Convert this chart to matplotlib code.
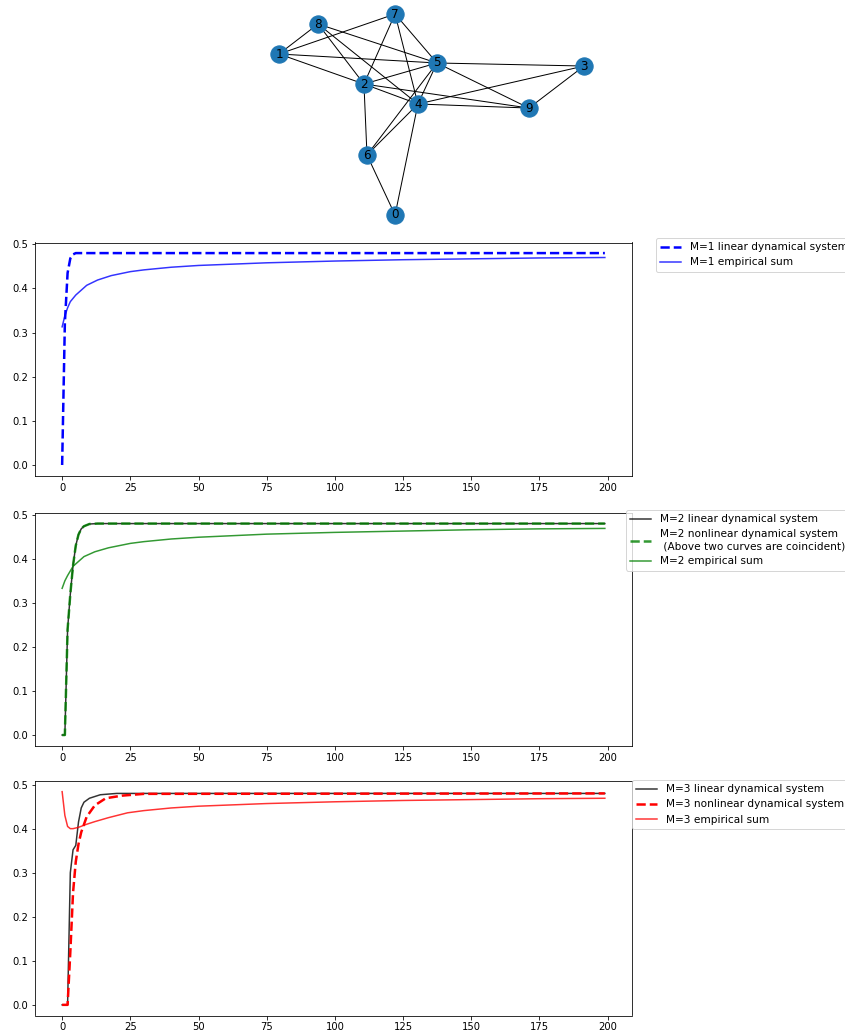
import matplotlib
matplotlib.use('Agg')
import matplotlib.pyplot as plt

W, H, DPI = 845, 1034, 72

# --- graph (layout coordinates, spring-layout-like) ---
NODES = [0, 1, 2, 3, 4, 5, 6, 7, 8, 9]
NODE_X = [-0.239, -1.000, -0.443, 1.000, -0.089, 0.036, -0.423, -0.239, -0.744, 0.639]
NODE_Y = [-1.000, 0.594, 0.297, 0.475, 0.099, 0.505, -0.406, 0.990, 0.891, 0.059]
EDGES = [(8, 1), (1, 7), (1, 5), (1, 2), (8, 5), (8, 2), (8, 4),
         (7, 2), (7, 4), (7, 5), (5, 2), (5, 3), (5, 9), (5, 4), (5, 6),
         (2, 4), (2, 9), (2, 6), (4, 9), (4, 3), (4, 6), (4, 0), (3, 9), (6, 0)]

# --- M=1 ---
m1_lin_x = [0, 1, 2, 3, 4, 5, 199]
m1_lin_y = [0.0, 0.322, 0.435, 0.468, 0.477, 0.48, 0.48]
m1_emp_x = [0, 1, 2, 3, 5, 9, 13, 18, 25, 30, 40, 50, 75, 100, 125, 150, 175, 199]
m1_emp_y = [0.313, 0.338, 0.356, 0.370, 0.385, 0.407, 0.419, 0.429, 0.438, 0.442,
            0.448, 0.452, 0.458, 0.462, 0.465, 0.467, 0.469, 0.470]

# --- M=2 ---
m2_lin_x = [0, 1, 2, 3, 4, 5, 6, 7, 8, 10, 13, 199]
m2_lin_y = [0.0, 0.0, 0.24, 0.32, 0.385, 0.43, 0.455, 0.468, 0.474, 0.479, 0.48, 0.48]
m2_non_x = m2_lin_x
m2_non_y = m2_lin_y
m2_emp_x = [0, 1, 2, 4, 8, 12, 17, 25, 30, 40, 50, 75, 100, 125, 150, 175, 199]
m2_emp_y = [0.333, 0.350, 0.362, 0.383, 0.405, 0.416, 0.425, 0.435, 0.439, 0.445,
            0.449, 0.456, 0.460, 0.463, 0.466, 0.468, 0.469]

# --- M=3 ---
m3_lin_x = [0, 1, 2, 3, 4, 5, 6, 7, 8, 10, 14, 20, 199]
m3_lin_y = [0.0, 0.0, 0.0, 0.30, 0.352, 0.362, 0.415, 0.447, 0.46, 0.469, 0.477, 0.48, 0.48]
m3_non_x = [0, 1, 2, 3, 4, 5, 6, 7, 9, 12, 16, 22, 30, 199]
m3_non_y = [0.0, 0.0, 0.0, 0.12, 0.255, 0.325, 0.365, 0.392, 0.427, 0.453, 0.469, 0.475,
            0.479, 0.48]
m3_emp_x = [0, 1, 2, 3, 4, 6, 9, 12, 17, 24, 30, 40, 50, 75, 100, 125, 150, 175, 199]
m3_emp_y = [0.484, 0.430, 0.405, 0.400, 0.400, 0.403, 0.410, 0.416, 0.425, 0.436, 0.441,
            0.447, 0.451, 0.457, 0.461, 0.464, 0.466, 0.468, 0.469]


def px_axes(fig, left, top, right, bottom):
    return fig.add_axes([left / W, 1 - bottom / H, (right - left) / W, (bottom - top) / H])


fig = plt.figure(figsize=(W / DPI, H / DPI), dpi=DPI)

# graph panel
axg = px_axes(fig, 263.75, 2.9, 599.25, 225.1)
for a, b in EDGES:
    axg.plot([NODE_X[a], NODE_X[b]], [NODE_Y[a], NODE_Y[b]], color='k', lw=1, zorder=1)
axg.scatter(NODE_X, NODE_Y, s=300, color='#1f77b4', zorder=2)
for n in NODES:
    axg.text(NODE_X[n], NODE_Y[n], str(n), fontsize=12, ha='center', va='center', zorder=3)
axg.set_xlim(-1.1, 1.1)
axg.set_ylim(-1.1, 1.1)
axg.axis('off')

LEG_FS = 10.5

ax1 = px_axes(fig, 35, 242.5, 632, 475.6)
ax1.plot(m1_lin_x, m1_lin_y, 'b--', lw=2.5, label='M=1 linear dynamical system')
ax1.plot(m1_emp_x, m1_emp_y, 'b', alpha=0.8, lw=1.5, label='M=1 empirical sum')
ax1.legend(loc='upper left', bbox_to_anchor=(656 / W, 1 - 238 / H),
           bbox_transform=fig.transFigure, borderaxespad=0, fontsize=LEG_FS)

ax2 = px_axes(fig, 35, 513, 632, 745.6)
ax2.plot(m2_lin_x, m2_lin_y, 'k', alpha=0.8, lw=1.5, label='M=2 linear dynamical system')
ax2.plot(m2_non_x, m2_non_y, 'g--', alpha=0.8, lw=2.5,
         label='M=2 nonlinear dynamical system\n (Above two curves are coincident)')
ax2.plot(m2_emp_x, m2_emp_y, 'g', alpha=0.8, lw=1.5, label='M=2 empirical sum')
ax2.legend(loc='upper left', bbox_to_anchor=(626 / W, 1 - 510 / H),
           bbox_transform=fig.transFigure, borderaxespad=0, fontsize=LEG_FS)

ax3 = px_axes(fig, 35, 781, 632, 1015.5)
ax3.plot(m3_lin_x, m3_lin_y, 'k', alpha=0.8, lw=1.5, label='M=3 linear dynamical system')
ax3.plot(m3_non_x, m3_non_y, 'r--', lw=2.5, label='M=3 nonlinear dynamical system')
ax3.plot(m3_emp_x, m3_emp_y, 'r', alpha=0.8, lw=1.5, label='M=3 empirical sum')
ax3.legend(loc='upper left', bbox_to_anchor=(632 / W, 1 - 780 / H),
           bbox_transform=fig.transFigure, borderaxespad=0, fontsize=LEG_FS)

fig.savefig('out.png', dpi=DPI)
